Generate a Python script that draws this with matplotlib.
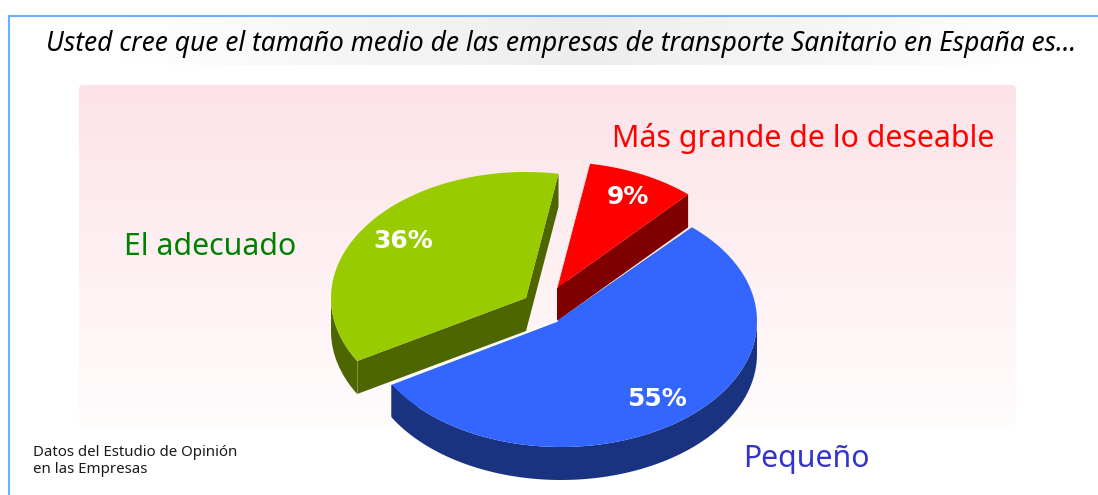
#!/usr/bin/env python3
"""Exploded 3D-looking pie on the company size opinion question."""

import numpy as np
import matplotlib
matplotlib.use("Agg")
import matplotlib.pyplot as plt
from matplotlib.colors import LinearSegmentedColormap
from matplotlib.patches import FancyBboxPatch, Polygon

TITLE = "Usted cree que el tamaño medio de las empresas de transporte Sanitario en España es…"
NOTE = "Datos del Estudio de Opinión\nen las Empresas"

# slices go clockwise starting from the red/blue boundary
NAMES = ["Pequeño", "El adecuado", "Más grande de lo deseable"]
VALUES = [55, 36, 9]

START = 48.0  # degrees
RY = 126
DEPTH = 33

# per slice: arc centre, apex, rx, top colour, side colour
CENTER = [(561, 321), (526, 298), (557, 288)]
APEX = [(557, 321), (526, 298), (557, 288)]
RX = [196, 195, 196]
TOP = ["#3366FF", "#99CC00", "#FF0000"]
SIDE = ["#1A3380", "#4D6600", "#800000"]
NAME_COLOR = ["#3333CC", "#008000", "#FF0000"]
NAME_POS = [(743, 467), (124, 255), (612, 147)]
PCT_POS = [(657, 399), (403, 241), (628, 197)]

BORDER = "#66B2FF"


def arc(center, rx, a0, a1):
    t = np.radians(np.linspace(a0, a1, 200))
    return np.column_stack((center[0] + rx * np.cos(t), center[1] - RY * np.sin(t)))


def down(pts):
    return pts + np.array([0, DEPTH])


def main():
    fig = plt.figure(figsize=(10.98, 4.95), dpi=100)
    ax = fig.add_axes([0, 0, 1, 1])
    ax.set_xlim(0, 1098)
    ax.set_ylim(495, 0)
    ax.axis("off")

    # title band
    band = LinearSegmentedColormap.from_list("band", ["#FFFFFF", "#EDEDED", "#FFFFFF"])
    ax.imshow(np.linspace(0, 1, 40)[None, :], extent=(100, 1065, 65, 16), cmap=band,
              aspect="auto", interpolation="nearest", zorder=1)

    # pink panel
    pink = LinearSegmentedColormap.from_list("pink", ["#FDE3E8", "#FFFCFC"])
    im = ax.imshow(np.linspace(0, 1, 64)[:, None], extent=(79, 1016, 426, 85), cmap=pink,
                   aspect="auto", interpolation="bilinear", zorder=1)
    clip = FancyBboxPatch((82, 88), 931, 335, boxstyle="round,pad=3,rounding_size=4",
                          facecolor="none", edgecolor="none", transform=ax.transData)
    ax.add_patch(clip)
    im.set_clip_path(clip)
    ax.set_xlim(0, 1098)
    ax.set_ylim(495, 0)

    # frame, only top and left are visible
    ax.plot([1098, 8.5, 8.5], [15.5, 15.5, 495], color=BORDER, lw=1.5, zorder=2,
            solid_joinstyle="miter")

    # angles from the values
    spans = np.array(VALUES) / sum(VALUES) * 360
    ends = START - np.cumsum(spans)
    starts = ends + spans

    # side faces, back to front: green, red, blue
    for i in [1, 2, 0]:
        a0, a1 = starts[i], ends[i]
        apex = np.array(APEX[i], dtype=float)
        rim = arc(CENTER[i], RX[i], a0, a1)

        # cut faces
        for p in (rim[0], rim[-1]):
            quad = np.array([apex, p, p + [0, DEPTH], apex + [0, DEPTH]])
            ax.add_patch(Polygon(quad, closed=True, facecolor=SIDE[i],
                                 edgecolor="none", zorder=3))
            ax.plot([p[0], p[0]], [p[1], p[1] + DEPTH], color="#FFFFFF", alpha=0.25,
                    lw=0.6, zorder=3.5)
        # outer wall
        pts = rim[rim[:, 1] >= CENTER[i][1] - 1]
        if len(pts):
            wall = np.vstack((pts, down(pts)[::-1]))
            ax.add_patch(Polygon(wall, closed=True, facecolor=SIDE[i],
                                 edgecolor="none", zorder=3))

    # top faces
    for i in [1, 2, 0]:
        rim = arc(CENTER[i], RX[i], starts[i], ends[i])
        ax.add_patch(Polygon(np.vstack((APEX[i], rim)), closed=True, facecolor=TOP[i],
                             edgecolor="none", zorder=4))

    # thin light edges
    rim = arc(CENTER[0], RX[0], starts[0], ends[0])
    ax.plot([rim[-1][0], APEX[0][0]], [rim[-1][1], APEX[0][1]], color="white", lw=1.2, zorder=5)
    rim = arc(CENTER[2], RX[2], starts[2], ends[2])
    ax.plot([rim[0][0], APEX[2][0]], [rim[0][1], APEX[2][1]], color="white", lw=0.5, zorder=5)

    # labels
    ax.text(46, 44, TITLE, fontsize=18.97, style="italic", family=["Noto Sans", "DejaVu Sans"],
            color="black", ha="left", va="center", zorder=6)
    for name, col, pos in zip(NAMES, NAME_COLOR, NAME_POS):
        ax.text(pos[0], pos[1], name, fontsize=21.8, color=col, ha="left", va="baseline",
                family="Noto Sans", zorder=6)
    for val, pos in zip(VALUES, PCT_POS):
        ax.text(pos[0], pos[1], f"{val}%", fontsize=18, fontweight="bold", color="white",
                ha="center", va="center", family="DejaVu Sans", zorder=6)
    ax.text(33, 461, NOTE, fontsize=10.8, color="#1A1A1A", ha="left", va="center",
            family="Noto Sans", linespacing=1.22, zorder=6)

    fig.savefig("out.png", dpi=100, facecolor="white")


if __name__ == "__main__":
    main()
